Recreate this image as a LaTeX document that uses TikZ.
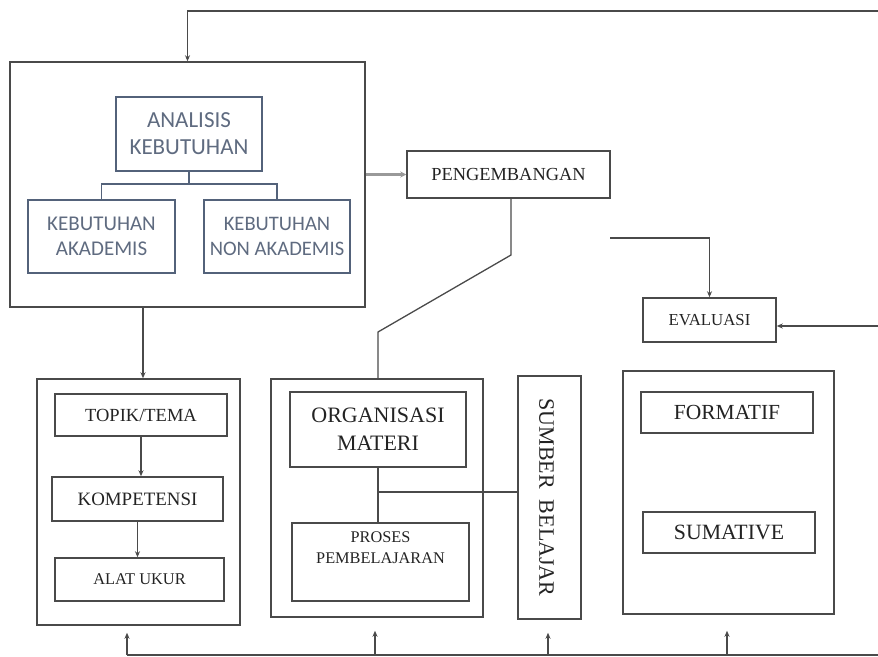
\documentclass[tikz,border=0pt]{standalone}
\usepackage{fontspec}
\setmainfont{Liberation Serif}
\newfontfamily\calfont{Carlito}
\usetikzlibrary{arrows.meta,calc}
\definecolor{linegray}{HTML}{4A4A4A}
\definecolor{bluegray}{HTML}{53627A}
\definecolor{bluetext}{HTML}{5F6B80}
\definecolor{inktext}{HTML}{232323}
\tikzset{
  box/.style={draw=linegray, line width=1.5pt, rectangle, inner sep=0pt, text=inktext, align=center},
  abox/.style={draw=bluegray, line width=1.5pt, rectangle, inner sep=0pt, text=bluetext, align=center},
  wire/.style={draw=linegray, line width=1.3pt},
  arr/.style={wire, -{Stealth[length=6pt,width=5pt]}},
}
\newcommand{\fs}[2]{\fontsize{#1}{#2}\selectfont}
\begin{document}
\begin{tikzpicture}[x=1pt,y=-1pt]
\useasboundingbox (0,0) rectangle (878,656);

% needs analysis group
\node[box, minimum width=355, minimum height=245] (outer) at (187.5,184.5) {};
\node[abox, minimum width=146, minimum height=74, font=\calfont\fs{23}{27}] (analisis) at (189,134) {ANALISIS\\KEBUTUHAN};
\node[abox, minimum width=147, minimum height=73, font=\calfont\fs{21}{25}] (akad) at (101.5,236.5) {KEBUTUHAN\\AKADEMIS};
\node[abox, minimum width=146, minimum height=73, font=\calfont\fs{20.6}{25}] (nonakad) at (277,236.5) {KEBUTUHAN\\NON AKADEMIS};
\coordinate (split) at (189,184);
\draw[draw=bluegray, line width=1.5pt] (analisis.south) -- (split);
\draw[draw=bluegray, line width=1.5pt] (akad.north) -- (akad.north |- split) -- (nonakad.north |- split) -- (nonakad.north);

% development and evaluation
\node[box, minimum width=203, minimum height=47, font=\fs{18.4}{20}] (peng) at (508.5,174.5) {PENGEMBANGAN};
\node[box, minimum width=133, minimum height=44, font=\fs{16.8}{18}] (eval) at (709.5,320) {EVALUASI};

% first column
\node[box, minimum width=203, minimum height=246] (boxA) at (138.5,502) {};
\node[box, minimum width=172, minimum height=42, font=\fs{18.5}{20}] (topik) at (141,415) {TOPIK/TEMA};
\node[box, minimum width=171, minimum height=44, font=\fs{18.9}{20}] (komp) at (137.5,499) {KOMPETENSI};
\node[box, minimum width=169, minimum height=43, font=\fs{16.4}{20}] (alat) at (139.5,579.5) {ALAT UKUR};

% second column
\node[box, minimum width=212, minimum height=238] (boxB) at (377,498) {};
\node[box, minimum width=176, minimum height=75, font=\fs{22}{28}] (org) at (378,429.5) {ORGANISASI\\MATERI};
\node[box, minimum width=177, minimum height=78] (proses) at (380.5,562) {};
\node[anchor=north, inner sep=0pt, align=center, text=inktext, font=\fs{16.3}{21}] (prosestext) at ($(proses.north)+(0,9)$) {PROSES\\PEMBELAJARAN};

% learning resources
\node[box, minimum width=63, minimum height=243] (sumber) at (549.5,497.5) {};
\node[rotate=-90, inner sep=0pt, text=inktext, font=\fs{22}{26}] (sumbertext) at (546.5,497.5) {SUMBER\ \ BELAJAR};

% assessment column
\node[box, minimum width=211, minimum height=243] (boxD) at (728.5,492.5) {};
\node[box, minimum width=172, minimum height=41, font=\fs{21.5}{24}] (formatif) at (727,412.5) {FORMATIF};
\node[box, minimum width=172, minimum height=41, font=\fs{21.8}{24}] (sumative) at (729,532.5) {SUMATIVE};

% feedback line along the top
\coordinate (topR) at (878,11);
\draw[arr] (topR) -| (outer);

% analysis to development
\draw[draw=gray!80, line width=2.2pt, -{Stealth[length=6pt,width=6pt]}] (outer.east |- peng.west) -- (peng.west);

% development down to the materials column
\coordinate (bend1) at (511,255);
\coordinate (bend2) at (378,332);
\draw[wire] (peng.south -| bend1) -- (bend1) -- (bend2) -- (bend2 |- boxB.north);

% feed into evaluation
\coordinate (evalsrc) at (610,238);
\draw[arr] (evalsrc) -| (eval);
\coordinate (evalR) at (878,326);
\draw[arr] (evalR) -- (evalR -| eval.east);

% analysis to first column
\coordinate (akx) at (143,0);
\draw[arr] (outer.south -| akx) -- (boxA.north -| akx);
\draw[arr] (topik.south) -- (topik.south |- komp.north);
\draw[arr] (komp.south) -- (komp.south |- alat.north);

% materials links
\draw[wire] (org.south) -- (org.south |- proses.north);
\coordinate (junc) at (378,492);
\draw[wire] (junc) -- (junc -| sumber.west);

% feedback line along the bottom
\coordinate (botL) at (127,655);
\coordinate (botR) at (878,655);
\draw[wire] (botL) -- (botR);
\draw[arr, shorten >=7pt] (botL) -- (botL |- boxA.south);
\coordinate (botB) at (375,655);
\draw[arr, shorten >=13pt] (botB) -- (botB |- boxB.south);
\coordinate (botS) at (548,655);
\draw[arr, shorten >=13pt] (botS) -- (botS |- sumber.south);
\coordinate (botD) at (727,655);
\draw[arr, shorten >=16pt] (botD) -- (botD |- boxD.south);
\end{tikzpicture}
\end{document}
